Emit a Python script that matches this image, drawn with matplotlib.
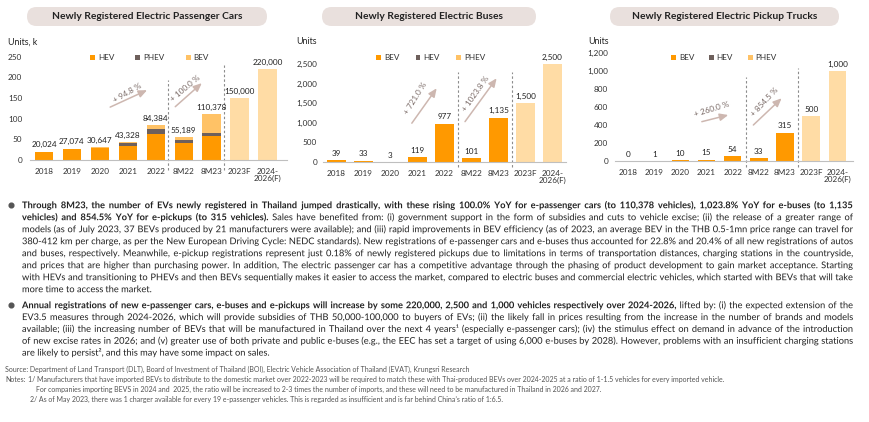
import matplotlib
matplotlib.use('Agg')
import matplotlib.pyplot as plt
import matplotlib.patheffects as pe
import numpy as np
from matplotlib.patches import FancyBboxPatch, Patch
from matplotlib.lines import Line2D
from matplotlib.transforms import IdentityTransform
from matplotlib.ticker import FuncFormatter

W, H = 870, 422
plt.rcParams['font.family'] = ['Lato', 'DejaVu Sans']

# ---- data ----
categories = ['2018', '2019', '2020', '2021', '2022', '8M22', '8M23', '2023F', '2024-\n2026(F)']

# passenger cars, thousand units (stacked), actual periods
car_hev = [20.0, 26.5, 30.0, 33.0, 62.0, 42.0, 58.0]
car_phev = [0.0, 0.0, 0.0, 8.0, 12.0, 7.0, 8.0]
car_bev = [0.0, 0.6, 0.6, 2.3, 10.4, 6.2, 44.4]
car_forecast = [150, 220]
car_labels = ['20,024', '27,074', '30,647', '43,328', '84,384', '55,189', '110,378', '150,000', '220,000']

# buses, units
bus_bev = [39, 33, 3, 119, 977, 101, 1135]
bus_forecast = [1500, 2500]

# pickup trucks, units
pickup_bev = [0, 1, 10, 15, 54, 33, 315]
pickup_forecast = [500, 1000]

# growth annotations: text, arrow start, arrow end, text pos, angle
car_growth = [('+ 94.8 %', (2.37, 128), (3.69, 169), (3.0, 163), 30),
              ('+ 100.0 %', (4.70, 129), (5.65, 186), (5.05, 173), 40)]
bus_growth = [('+ 721.0 %', (2.79, 990), (3.71, 1880), (2.93, 1620), 58),
              ('+ 1023.8 %', (4.76, 1030), (5.93, 2135), (5.16, 1730), 55)]
pickup_growth = [('+ 260.0 %', (2.82, 437), (3.83, 511), (3.2, 570), 17),
                 ('+ 854.5 %', (4.79, 400), (5.87, 697), (5.2, 660), 47)]

ORANGE = '#FF9900'
DARK = '#6E605C'
LIGHT = '#FFC266'
FORE = '#FFDCA5'
ARROW = '#CDB7B0'
TXT = '#222222'
SMALL = 5.9

fig = plt.figure(figsize=(W / 100, H / 100), dpi=100)
renderer = fig.canvas.get_renderer()

def fx(x):
    return x / W

def fy(y):
    return 1 - y / H

def px_ax(left, right, y0, ytop):
    return fig.add_axes([left / W, 1 - y0 / H, (right - left) / W, (y0 - ytop) / H])

def style_ax(ax, ymax, ystep, xmax, ypad):
    ax.set_xlim(-0.5, xmax)
    ax.set_ylim(0, ymax)
    ax.set_yticks(np.arange(0, ymax + 1, ystep))
    ax.yaxis.set_major_formatter(FuncFormatter(lambda v, p: f'{int(v):,}'))
    ax.set_xticks(range(len(categories)))
    ax.set_xticklabels(categories, linespacing=1.1)
    for s in ['left', 'right', 'top']:
        ax.spines[s].set_visible(False)
    ax.spines['bottom'].set_color('#BFBFBF')
    ax.spines['bottom'].set_linewidth(0.8)
    ax.tick_params(axis='both', length=0, labelsize=SMALL, colors='#333333')
    ax.tick_params(axis='y', pad=ypad)
    ax.tick_params(axis='x', pad=5.5)
    ax.patch.set_alpha(0)

def title_box(x0, x1, text):
    y0, y1 = 7, 26
    box = FancyBboxPatch((x0, H - y1), x1 - x0, y1 - y0,
                         boxstyle='round,pad=0,rounding_size=9.5',
                         transform=IdentityTransform(), facecolor='#E9E0DD',
                         edgecolor='none')
    fig.patches.append(box)
    fig.text(fx((x0 + x1) / 2), fy(16.8), text, ha='center', va='center',
             fontsize=7.4, fontweight='bold', color=TXT)

def legend(ax, labels, colors, xleft, spacing):
    handles = [Patch(facecolor=c, edgecolor='none') for c in colors]
    ax.legend(handles, labels, ncol=3, loc='center left',
              bbox_to_anchor=(fx(xleft), fy(57.5)), bbox_transform=fig.transFigure,
              frameon=False, fontsize=SMALL, handlelength=0.6, handleheight=0.6,
              handletextpad=0.35, columnspacing=spacing, borderpad=0,
              borderaxespad=0, labelcolor='#333333')

def dashes(ax, xs_tops, ybottom):
    for x, top in xs_tops:
        ax.plot([x, x], [ybottom, top], ls=(0, (2.2, 2)), color='#8C8C8C',
                lw=0.8, clip_on=False)

def growth(ax, items):
    for text, start, end, pos, ang in items:
        ax.annotate('', xy=end, xytext=start,
                    arrowprops=dict(arrowstyle='-|>,head_length=0.5,head_width=0.22',
                                    color=ARROW, lw=1.1, shrinkA=0, shrinkB=0))
        ax.text(pos[0], pos[1], text, rotation=ang, rotation_mode='anchor',
                ha='center', va='center', fontsize=SMALL, color='#7A6A66')

def value_labels(ax, xs, vals, labels):
    for x, v, lb in zip(xs, vals, labels):
        ax.annotate(lb, (x, v), xytext=(0, 2.4), textcoords='offset points',
                    ha='center', va='bottom', fontsize=5.9, color=TXT)

actual_x = np.arange(7)
fore_x = np.array([7, 8])

# ---- chart 1: passenger cars ----
ax1 = px_ax(30, 287, 160, 56.7)
ax1.bar(actual_x, car_hev, 0.65, color=ORANGE)
ax1.bar(actual_x, car_phev, 0.65, bottom=car_hev, color=DARK)
ax1.bar(actual_x, car_bev, 0.65, bottom=np.add(car_hev, car_phev), color=LIGHT)
ax1.bar(fore_x, car_forecast, 0.65, color=FORE)
style_ax(ax1, 250, 50, 8.7, 5.5)
car_totals = list(np.add(np.add(car_hev, car_phev), car_bev)) + car_forecast
value_labels(ax1, range(9), car_totals, car_labels)
legend(ax1, ['HEV', 'PHEV', 'BEV'], [ORANGE, DARK, LIGHT], 90, 2.6)
dashes(ax1, [(4.45, 194), (6.45, 230)], -24)
growth(ax1, car_growth)
fig.text(fx(8), fy(42), 'Units, k', fontsize=6.4, color=TXT, va='center')
title_box(27, 267, 'Newly Registered Electric Passenger Cars')

# ---- chart 2: buses ----
ax2 = px_ax(323, 566, 162, 64)
ax2.bar(actual_x, bus_bev, 0.67, color=ORANGE)
ax2.bar(fore_x, bus_forecast, 0.67, color=FORE)
style_ax(ax2, 2500, 500, 8.5, 4.3)
bus_vals = bus_bev + bus_forecast
value_labels(ax2, range(9), bus_vals, [f'{v:,}' for v in bus_vals])
legend(ax2, ['BEV', 'HEV', 'PHEV'], [ORANGE, DARK, LIGHT], 376, 2.0)
dashes(ax2, [(4.5, 2300), (6.5, 2300)], -128)
growth(ax2, bus_growth)
fig.text(fx(296), fy(42), 'Units', fontsize=6.4, color=TXT, va='center')
title_box(322, 536, 'Newly Registered Electric Buses')

# ---- chart 3: pickup trucks ----
ax3 = px_ax(615, 853, 161, 53)
ax3.bar(actual_x, pickup_bev, 0.67, color=ORANGE)
ax3.bar(fore_x, pickup_forecast, 0.67, color=FORE)
style_ax(ax3, 1200, 200, 8.6, 5)
pickup_vals = pickup_bev + pickup_forecast
value_labels(ax3, range(9), pickup_vals, [f'{v:,}' for v in pickup_vals])
legend(ax3, ['BEV', 'HEV', 'PHEV'], [ORANGE, DARK, LIGHT], 671, 1.8)
dashes(ax3, [(4.5, 933), (6.5, 1033)], -67)
growth(ax3, pickup_growth)
fig.text(fx(588), fy(42), 'Units', fontsize=6.4, color=TXT, va='center')
title_box(610, 839, 'Newly Registered Electric Pickup Trucks')

# ---- commentary text ----
B, N = 'bold', 'normal'
bullet1 = [
    [("Through 8M23, the number of EVs newly registered in Thailand jumped drastically, with these rising 100.0% YoY for e-passenger cars (to 110,378 vehicles), 1,023.8% YoY for e-buses (to 1,135", B)],
    [("vehicles) and 854.5% YoY for e-pickups (to 315 vehicles).", B),
     ("Sales have benefited from: (i) government support in the form of subsidies and cuts to vehicle excise; (ii) the release of a greater range of", N)],
    [("models (as of July 2023, 37 BEVs produced by 21 manufacturers were available); and (iii) rapid improvements in BEV efficiency (as of 2023, an average BEV in the THB 0.5-1mn price range can travel for", N)],
    [("380-412 km per charge, as per the New European Driving Cycle: NEDC standards). New registrations of e-passenger cars and e-buses thus accounted for 22.8% and 20.4% of all new registrations of autos", N)],
    [("and buses, respectively. Meanwhile, e-pickup registrations represent just 0.18% of newly registered pickups due to limitations in terms of transportation distances, charging stations in the countryside,", N)],
    [("and prices that are higher than purchasing power. In addition, The electric passenger car has a competitive advantage through the phasing of product development to gain market acceptance. Starting", N)],
    [("with HEVs and transitioning to PHEVs and then BEVs sequentially makes it easier to access the market, compared to electric buses and commercial electric vehicles, which started with BEVs that will take", N)],
    [("more time to access the market.", N)],
]
bullet2 = [
    [("Annual registrations of new e-passenger cars, e-buses and e-pickups will increase by some 220,000, 2,500 and 1,000 vehicles respectively over 2024-2026,", B),
     ("lifted by: (i) the expected extension of the", N)],
    [("EV3.5 measures through 2024-2026, which will provide subsidies of THB 50,000-100,000 to buyers of EVs; (ii) the likely fall in prices resulting from the increase in the number of brands and models", N)],
    [("available; (iii) the increasing number of BEVs that will be manufactured in Thailand over the next 4 years\u00b9 (especially e-passenger cars); (iv) the stimulus effect on demand in advance of the introduction", N)],
    [("of new excise rates in 2026; and (v) greater use of both private and public e-buses (e.g., the EEC has set a target of using 6,000 e-buses by 2028). However, problems with an insufficient charging stations", N)],
    [("are likely to persist\u00b2, and this may have some impact on sales.", N)],
]
source_text = "Source: Department of Land Transport (DLT), Board of Investment of Thailand (BOI), Electric Vehicle Association of Thailand (EVAT), Krungsri Research"
notes_lines = [
    ("Notes:", 5),
    ("1/ Manufacturers that have imported BEVs to distribute to the domestic market over 2022-2023 will be required to match these with Thai-produced BEVs over 2024-2025 at a ratio of 1-1.5 vehicles for every imported vehicle.", 28),
    ("For companies importing BEVS in 2024 and  2025, the ratio will be increased to 2-3 times the number of imports, and these will need to be manufactured in Thailand in 2026 and 2027.", 36),
    ("2/ As of May 2023, there was 1 charger available for every 19 e-passenger vehicles. This is regarded as insufficient and is far behind China\u2019s ratio of 1:6.5.", 30),
]

def text_width(s, size, weight=N):
    t = fig.text(0, 0, s, fontsize=size, fontweight=weight)
    w = t.get_window_extent(renderer).width
    t.remove()
    return w

def tokens(runs):
    out = []
    for txt, wt in runs:
        for w in txt.split():
            out.append((w, wt))
    return out

def natural_width(runs, size):
    toks = tokens(runs)
    sp = text_width('a a', size) - text_width('aa', size)
    return sum(text_width(w, size, wt) for w, wt in toks) + sp * (len(toks) - 1)

X0, X1 = 22, 853
ref = 10.0
widest = max(natural_width(r, ref) for r in bullet1[:-1] + bullet2[:-1])
body_size = ref * (X1 - X0) / widest * 0.995

# words drawn as outlines keep one exact baseline per line
as_path = [pe.Normal()]

def draw_line(runs, y, size, justify, color=TXT):
    toks = tokens(runs)
    widths = [text_width(w, size, wt) for w, wt in toks]
    sp = text_width('a a', size) - text_width('aa', size)
    gap = (X1 - X0 - sum(widths)) / (len(toks) - 1) if justify else sp
    x = X0
    for (w, wt), wd in zip(toks, widths):
        fig.text(fx(x), fy(y + 3.2), w, fontsize=size, fontweight=wt,
                 color=color, va='baseline', ha='left', path_effects=as_path)
        x += wd + gap

def draw_bullet(lines, ytop, step):
    fig.lines.append(Line2D([fx(11.5)], [fy(ytop)], marker='o', markersize=3.4,
                            color='#555555', transform=fig.transFigure))
    for i, runs in enumerate(lines):
        draw_line(runs, ytop + i * step, body_size, i < len(lines) - 1)

draw_bullet(bullet1, 205, 12.0)
draw_bullet(bullet2, 305, 11.85)

note_size = 10.0 * (730 - 28) / text_width(notes_lines[1][0], 10.0)
fig.text(fx(5), fy(369.5), source_text, fontsize=note_size, color='#555555', va='center')
note_ys = [379.3, 379.3, 389.2, 399]
for (txt, x), y in zip(notes_lines, note_ys):
    fig.text(fx(x), fy(y), txt, fontsize=note_size, color='#555555', va='center')

fig.savefig('out.png', dpi=100)
